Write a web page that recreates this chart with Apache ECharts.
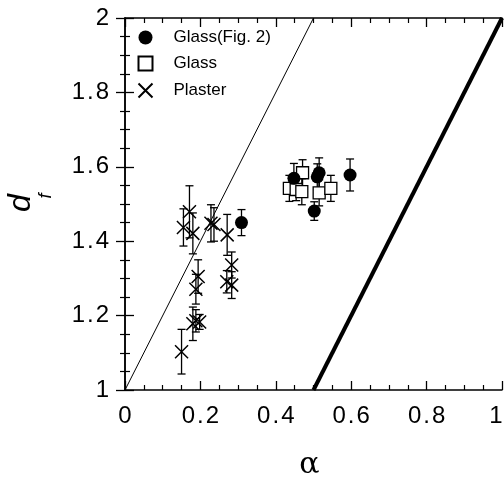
<!DOCTYPE html>
<html><head><meta charset="utf-8">
<script src="https://cdn.jsdelivr.net/npm/echarts@6/dist/echarts.min.js"></script>
<style>html,body{margin:0;padding:0;background:#fff}#c{width:504px;height:482px}</style>
</head><body><div id="c"></div>
<script>
// [alpha, d_f, y-error]
const glassFig2 = [[0.309,1.450,0.035],[0.448,1.569,0.040],[0.515,1.584,0.040],[0.510,1.573,0.035],[0.597,1.578,0.043],[0.502,1.481,0.025]];
// [alpha, d_f, y-error, x-error]
const glass = [[0.471,1.584,0.035,0.015],[0.436,1.542,0.035,0.015],[0.454,1.539,0.030,0.015],[0.469,1.533,0.035,0.015],[0.515,1.530,0.035,0.015],[0.546,1.542,0.035,0.015]];
// [alpha, d_f, y-error]
const plaster = [[0.150,1.103,0.060],[0.171,1.479,0.070],[0.155,1.437,0.050],[0.180,1.421,0.055],[0.228,1.448,0.050],[0.236,1.445,0.045],[0.271,1.417,0.055],[0.283,1.336,0.035],[0.270,1.291,0.030],[0.283,1.282,0.036],[0.194,1.305,0.045],[0.188,1.271,0.040],[0.180,1.178,0.045],[0.188,1.186,0.030],[0.198,1.183,0.020]];
const thinLine = [[0,1],[0.5,2]];
const thickLine = [[0.5,1],[1,2]];
const xTicks = ['0','0.2','0.4','0.6','0.8','1'];
const yTicks = ['1','1.2','1.4','1.6','1.8','2'];

const FONT = 'Liberation Sans';
const spaced = s => s.split('').join('\u200A');
function errBars(data, withX){
  return {
    type:'custom', silent:true, z:3,
    data: data,
    renderItem: function(params, api){
      const x = api.value(0), y = api.value(1), e = api.value(2);
      const top = api.coord([x, y+e]), bot = api.coord([x, y-e]);
      const cap = 4;
      const children = [
        {type:'line', shape:{x1:top[0],y1:top[1],x2:bot[0],y2:bot[1]}, style:{stroke:'#000',lineWidth:1.3}},
        {type:'line', shape:{x1:top[0]-cap,y1:top[1],x2:top[0]+cap,y2:top[1]}, style:{stroke:'#000',lineWidth:1.3}},
        {type:'line', shape:{x1:bot[0]-cap,y1:bot[1],x2:bot[0]+cap,y2:bot[1]}, style:{stroke:'#000',lineWidth:1.3}}
      ];
      if (withX){
        const ex = api.value(3);
        const l = api.coord([x-ex, y]), r = api.coord([x+ex, y]);
        children.push({type:'line', shape:{x1:l[0],y1:l[1],x2:r[0],y2:r[1]}, style:{stroke:'#000',lineWidth:1.3}});
      }
      return {type:'group', children};
    }
  };
}
const chart = echarts.init(document.getElementById('c'), null, {renderer:'canvas'});
const axisCommon = {
  min:0, max:1, interval:0.2,
  axisLine:{show:true, lineStyle:{color:'#000', width:1.5}},
  axisTick:{show:true, inside:true, length:9, lineStyle:{color:'#000', width:1.3}},
  minorTick:{show:true, splitNumber:4, length:5, lineStyle:{color:'#000', width:1.2}},
  splitLine:{show:false}
};
chart.setOption({
  animation:false,
  backgroundColor:'#fff',
  grid:{left:125, right:2, top:18, bottom:92, containLabel:false, outerBoundsMode:'none'},
  legend:{
    orient:'vertical', left:131, top:24, itemGap:9, itemWidth:14, itemHeight:14,
    data:['Glass(Fig. 2)','Glass','Plaster'],
    textStyle:{fontFamily:FONT, fontSize:17, color:'#000', padding:[0,0,0,16]}
  },
  graphic:[
    {type:'text', x:21, y:203, rotation:Math.PI/2,
      style:{text:'d', fontFamily:FONT, fontStyle:'italic', fontSize:32, fill:'#000', align:'center', verticalAlign:'middle'}},
    {type:'text', x:46, y:196, rotation:Math.PI/2,
      style:{text:'f', fontFamily:FONT, fontStyle:'italic', fontSize:18, fill:'#000', align:'center', verticalAlign:'middle'}}
  ],
  xAxis:[
    Object.assign({}, axisCommon, {
      type:'value', position:'bottom',
      axisLabel:{fontFamily:FONT, fontSize:24, color:'#000', margin:14,
        formatter: v => { const i = Math.round(v/0.2); return i === 5 ? '{r|' + xTicks[i] + '}' : spaced(xTicks[i]); },
        rich:{r:{fontFamily:FONT, fontSize:24, color:'#000', padding:[0,12,0,0]}}},
      name:'α', nameLocation:'middle', nameGap:60,
      nameTextStyle:{fontFamily:'DejaVu Serif', fontSize:30, color:'#000', padding:[0,8,0,0]}
    }),
    Object.assign({}, axisCommon, {type:'value', position:'top', axisLabel:{show:false}})
  ],
  yAxis:[
    Object.assign({}, axisCommon, {
      type:'value', min:1, max:2, interval:0.2, position:'left',
      axisLabel:{fontFamily:FONT, fontSize:24, color:'#000', margin:16,
        formatter: v => spaced(yTicks[Math.round((v-1)/0.2)])}
    }),
    Object.assign({}, axisCommon, {type:'value', min:1, max:2, interval:0.2, position:'right', axisLabel:{show:false}})
  ],
  series:[
    {type:'line', data:thinLine, symbol:'none', silent:true, lineStyle:{color:'#000', width:1}, z:1},
    {type:'line', data:thickLine, symbol:'none', silent:true, lineStyle:{color:'#000', width:4}, z:1},
    errBars(glassFig2, false),
    errBars(glass, true),
    errBars(plaster, false),
    {name:'Glass(Fig. 2)', type:'scatter', data:glassFig2.map(d=>[d[0],d[1]]), symbol:'circle', symbolSize:13,
      itemStyle:{color:'#000', opacity:1}, z:5},
    {name:'Glass', type:'scatter', data:glass.map(d=>[d[0],d[1]]), symbol:'rect', symbolSize:12,
      itemStyle:{color:'#fff', borderColor:'#000', borderWidth:1.3, opacity:1}, z:4},
    {name:'Plaster', type:'scatter', data:plaster.map(d=>[d[0],d[1]]), symbol:'path://M0,0L10,10M10,0L0,10', symbolSize:13,
      itemStyle:{color:'none', borderColor:'#000', borderWidth:1.5, opacity:1}, z:5}
  ]
});
</script></body></html>
